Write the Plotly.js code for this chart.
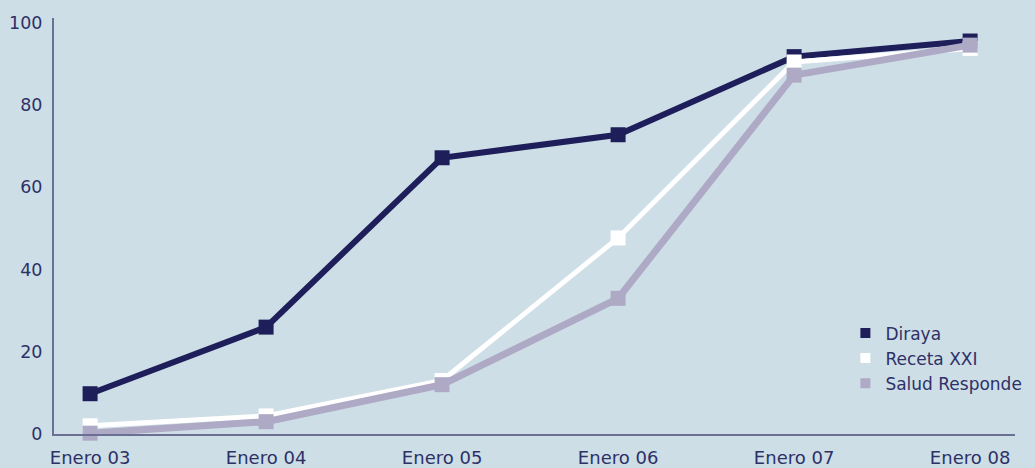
<!DOCTYPE html>
<html><head><meta charset="utf-8">
<script src="https://cdn.plot.ly/plotly-3.0.1.min.js"></script>
<style>html,body{margin:0;padding:0;background:#cddee7;}</style>
</head><body>
<div id="chart" style="width:1035px;height:468px;"></div>
<script>
const categories = ["Enero 03","Enero 04","Enero 05","Enero 06","Enero 07","Enero 08"];
const diraya = [9.8, 26, 67.2, 72.8, 91.8, 95.6];
const recetaXXI = [2, 4.4, 13, 47.7, 90.5, 93.8];
const saludResponde = [0.2, 3, 12, 33, 87.3, 94.6];
const seriesNames = ["Diraya","Receta XXI","Salud Responde"];
const colors = ["#1e1f5a","#ffffff","#aeaac6"];
const widths = [6, 5, 7];
const values = [diraya, recetaXXI, saludResponde];

const traces = [];
values.forEach((v,i)=>{
  traces.push({x:categories, y:v, type:'scatter', mode:'lines+markers', name:seriesNames[i],
    line:{color:colors[i], width:widths[i]}, marker:{symbol:'square', size:15, color:colors[i]},
    showlegend:false, cliponaxis:false, hoverinfo:'skip'});
});
values.forEach((v,i)=>{
  traces.push({x:[null], y:[null], type:'scatter', mode:'markers', name:seriesNames[i],
    marker:{symbol:'square', size:10, color:colors[i]}, showlegend:true});
});

const layout = {
  width:1035, height:468,
  paper_bgcolor:'#cddee7', plot_bgcolor:'#cddee7',
  margin:{l:54, r:20, t:18, b:34, autoexpand:false},
  font:{family:'"DejaVu Sans", sans-serif', color:'#2e3166', size:17},
  xaxis:{type:'category', range:[-0.205, 5.255], showline:true, linecolor:'#6b6f94', linewidth:2,
    showgrid:false, zeroline:false, ticks:'', tickfont:{size:18}, ticklabelstandoff:6, automargin:false},
  yaxis:{range:[0, 101.2], tickvals:[0,20,40,60,80,100], showline:true, linecolor:'#6b6f94', linewidth:2,
    showgrid:false, zeroline:false, ticks:'', tickfont:{size:17.5}, ticklabelstandoff:6, automargin:false},
  legend:{x:0.8235, y:0.285, xanchor:'left', yanchor:'top', bgcolor:'rgba(0,0,0,0)', font:{size:17},
    itemwidth:30, tracegroupgap:0, borderwidth:0},
  showlegend:true
};
Plotly.newPlot('chart', traces, layout, {displayModeBar:false, staticPlot:true});
</script>
</body></html>
